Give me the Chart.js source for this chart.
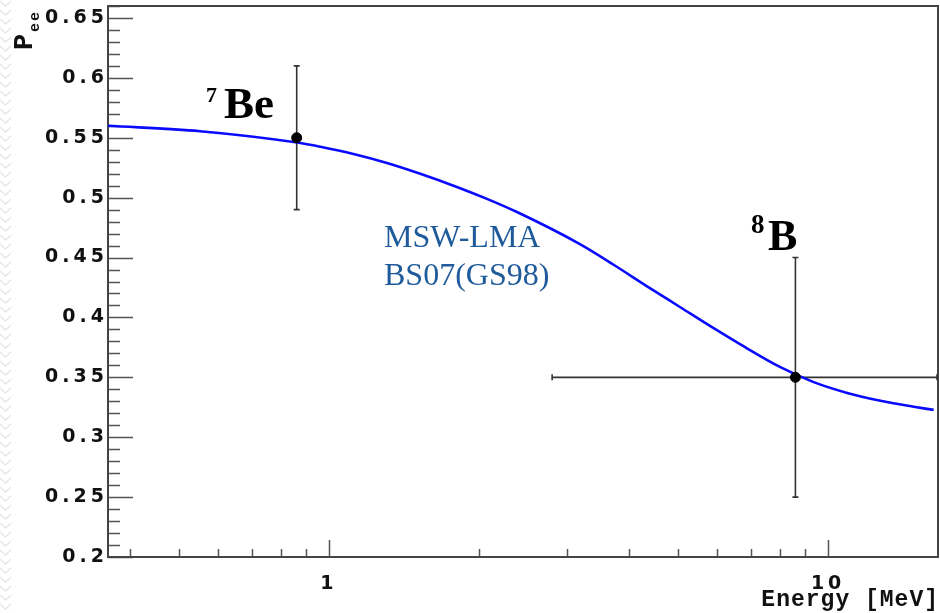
<!DOCTYPE html>
<html><head><meta charset="utf-8">
<script src="https://cdn.jsdelivr.net/npm/chart.js@4.4.0/dist/chart.umd.min.js"></script>
<style>
html,body{margin:0;padding:0;background:#fff;}
#wrap{position:relative;width:940px;height:613px;overflow:hidden;}
#zig{position:absolute;left:0;top:0;width:11px;height:613px;background-image:url("data:image/svg+xml;utf8,<svg xmlns='http://www.w3.org/2000/svg' width='11' height='9'><path d='M0 1 L5.5 6 L11 1' stroke='%23e6e6e6' stroke-width='1.4' fill='none'/></svg>");background-repeat:repeat-y;}
canvas{position:absolute;left:0;top:0;}
</style></head>
<body><div id="wrap"><div id="zig"></div><canvas id="c" width="940" height="613"></canvas></div>
<script>
// ---- data ----
const curveEnergy = [0.361, 0.552, 0.864, 0.961, 1.12, 1.307, 1.524, 1.777, 2.073, 2.381, 3.189, 3.718, 4.338, 5.058, 5.898, 6.672, 8.025, 9.357, 10.92, 12.73, 14.84, 16.27];
const curvePee    = [0.560, 0.5555, 0.546, 0.5425, 0.5365, 0.529, 0.520, 0.510, 0.499, 0.488, 0.461, 0.444, 0.426, 0.4085, 0.391, 0.3775, 0.3585, 0.346, 0.337, 0.3305, 0.3255, 0.3228];

const pointNames  = ['7Be', '8B'];
const pointEnergy = [0.862, 8.6];
const pointPee    = [0.55, 0.35];
const errYLow     = [0.49, 0.25];
const errYHigh    = [0.61, 0.45];
const errXLow     = [null, 2.8];
const errXHigh    = [null, 16.6];

const xMin = 0.361, xMax = 16.6;
const yMin = 0.2, yMax = 0.66;
const xTickValues = [0.4, 0.5, 0.6, 0.7, 0.8, 0.9, 1, 2, 3, 4, 5, 6, 7, 8, 9, 10];
const xLabeledTicks = [1, 10];
const xTickLabels = ['1', '10'];
const yMajorTicks = [0.2, 0.25, 0.3, 0.35, 0.4, 0.45, 0.5, 0.55, 0.6, 0.65];
const yTickLabels = ['0.2', '0.25', '0.3', '0.35', '0.4', '0.45', '0.5', '0.55', '0.6', '0.65'];
const yMinorPerMajor = 5;

// ---- helpers ----
function yTicksAll() {
  const t = [];
  for (let i = 0; i < yMajorTicks.length; i++) {
    t.push({ value: yMajorTicks[i], major: true, label: yTickLabels[i] });
    const next = i + 1 < yMajorTicks.length ? yMajorTicks[i + 1] : yMajorTicks[i] + (yMajorTicks[1] - yMajorTicks[0]);
    const step = (next - yMajorTicks[i]) / yMinorPerMajor;
    for (let k = 1; k < yMinorPerMajor; k++) {
      const v = +(yMajorTicks[i] + k * step).toFixed(4);
      if (v <= yMax) t.push({ value: v, major: false, label: '' });
    }
  }
  return t;
}
function zeroPad(s) { s.paddingLeft = 0; s.paddingRight = 0; s.paddingTop = 0; s.paddingBottom = 0; }

const spacingPlugin = {
  id: 'spacing',
  beforeDraw(chart) { chart.ctx.letterSpacing = '4px'; },
  beforeDatasetsDraw(chart) {
    const ctx = chart.ctx;
    ctx.letterSpacing = '0px';
    const a = chart.chartArea, xs = chart.scales.x, ys = chart.scales.y;
    ctx.save();
    // inner tick marks
    ctx.strokeStyle = '#555';
    ctx.lineWidth = 1.5;
    ctx.beginPath();
    ys.ticks.forEach(t => {
      const p = Math.round(ys.getPixelForValue(t.value)) + 0.5;
      const len = t.major ? 25 : 12;
      ctx.moveTo(a.left, p); ctx.lineTo(a.left + len, p);
    });
    xs.ticks.forEach(t => {
      const p = Math.round(xs.getPixelForValue(t.value)) + 0.5;
      const len = t.major ? 17 : 8;
      ctx.moveTo(p, a.bottom); ctx.lineTo(p, a.bottom - len);
    });
    ctx.stroke();
    // frame
    ctx.strokeStyle = '#444';
    ctx.lineWidth = 2;
    ctx.strokeRect(a.left, a.top, a.right - a.left, a.bottom - a.top);
    // error bars
    ctx.strokeStyle = '#333';
    ctx.lineWidth = 1.6;
    for (let i = 0; i < pointEnergy.length; i++) {
      const px = xs.getPixelForValue(pointEnergy[i]);
      const py = ys.getPixelForValue(pointPee[i]);
      const yl = ys.getPixelForValue(errYLow[i]);
      const yh = ys.getPixelForValue(errYHigh[i]);
      ctx.beginPath();
      ctx.moveTo(px, yl); ctx.lineTo(px, yh);
      ctx.moveTo(px - 3, yl); ctx.lineTo(px + 3, yl);
      ctx.moveTo(px - 3, yh); ctx.lineTo(px + 3, yh);
      if (errXLow[i] !== null) {
        const xl = xs.getPixelForValue(errXLow[i]);
        const xh = Math.min(xs.getPixelForValue(errXHigh[i]), a.right - 1);
        ctx.moveTo(xl, py); ctx.lineTo(xh, py);
        ctx.moveTo(xl, py - 3); ctx.lineTo(xl, py + 3);
        ctx.moveTo(xh, py - 3); ctx.lineTo(xh, py + 3);
      }
      ctx.stroke();
    }
    ctx.restore();
  },
  afterDraw(chart) {
    const ctx = chart.ctx;
    ctx.save();
    ctx.letterSpacing = '0px';
    // axis titles
    ctx.fillStyle = '#111';
    ctx.font = 'bold 23px "Liberation Mono"';
    ctx.letterSpacing = '1px';
    ctx.textAlign = 'right';
    ctx.textBaseline = 'alphabetic';
    ctx.fillText('Energy [MeV]', 939, 606);
    ctx.save();
    ctx.translate(32, 50);
    ctx.rotate(-Math.PI / 2);
    ctx.textAlign = 'left';
    ctx.letterSpacing = '0px';
    ctx.font = 'bold 27px "Liberation Mono"';
    ctx.fillText('P', 0, 0);
    ctx.font = 'bold 15px "Liberation Mono"';
    ctx.letterSpacing = '2px';
    ctx.fillText('ee', 18, 7);
    ctx.restore();
    // annotations
    ctx.letterSpacing = '0px';
    ctx.textAlign = 'left';
    ctx.fillStyle = '#000';
    ctx.font = 'bold 22px "Liberation Serif"';
    ctx.fillText('7', 206, 102);
    ctx.font = 'bold 45px "Liberation Serif"';
    ctx.fillText('Be', 224, 118);
    ctx.font = 'bold 27px "Liberation Serif"';
    ctx.fillText('8', 751, 233);
    ctx.font = 'bold 44px "Liberation Serif"';
    ctx.fillText('B', 768, 250);
    ctx.fillStyle = '#1f5b9b';
    ctx.font = '32px "Liberation Serif"';
    ctx.fillText('MSW-LMA', 384, 247);
    ctx.fillText('BS07(GS98)', 384, 285);
    ctx.restore();
  }
};

new Chart(document.getElementById('c'), {
  type: 'scatter',
  data: {
    datasets: [
      {
        label: 'MSW-LMA BS07(GS98)',
        data: curveEnergy.map((e, i) => ({ x: e, y: curvePee[i] })),
        showLine: true,
        borderColor: '#0a0aff',
        borderWidth: 2.6,
        pointRadius: 0,
        cubicInterpolationMode: 'monotone',
        order: 2
      },
      {
        label: 'data',
        data: pointEnergy.map((e, i) => ({ x: e, y: pointPee[i] })),
        backgroundColor: '#000',
        borderColor: '#000',
        pointRadius: 5,
        order: 1
      }
    ]
  },
  options: {
    responsive: false,
    devicePixelRatio: 1,
    animation: false,
    layout: { autoPadding: false, padding: { left: 0, top: 6, right: 2, bottom: 0 } },
    plugins: { legend: { display: false }, tooltip: { enabled: false } },
    scales: {
      x: {
        type: 'logarithmic',
        min: xMin, max: xMax,
        grid: { display: false },
        border: { display: false },
        afterBuildTicks: s => { s.ticks = xTickValues.map(v => ({ value: v, major: xLabeledTicks.includes(v) })); },
        afterFit: s => { s.height = 56; zeroPad(s); },
        ticks: {
          autoSkip: false, maxRotation: 0, padding: 8, color: '#111',
          font: { family: 'DejaVu Sans', weight: 'bold', size: 19 },
          callback: (v, i, ticks) => {
            const k = xLabeledTicks.indexOf(ticks[i].value);
            return k >= 0 ? xTickLabels[k] : '';
          }
        }
      },
      y: {
        type: 'linear',
        min: yMin, max: yMax,
        grid: { display: false },
        border: { display: false },
        afterBuildTicks: s => { s.ticks = yTicksAll(); },
        afterFit: s => { s.width = 108; zeroPad(s); },
        ticks: {
          autoSkip: false, padding: -8, color: '#111',
          font: { family: 'DejaVu Sans', weight: 'bold', size: 19 },
          callback: (v, i, ticks) => ticks[i].label || ''
        }
      }
    }
  },
  plugins: [spacingPlugin]
});
</script>
</body></html>
